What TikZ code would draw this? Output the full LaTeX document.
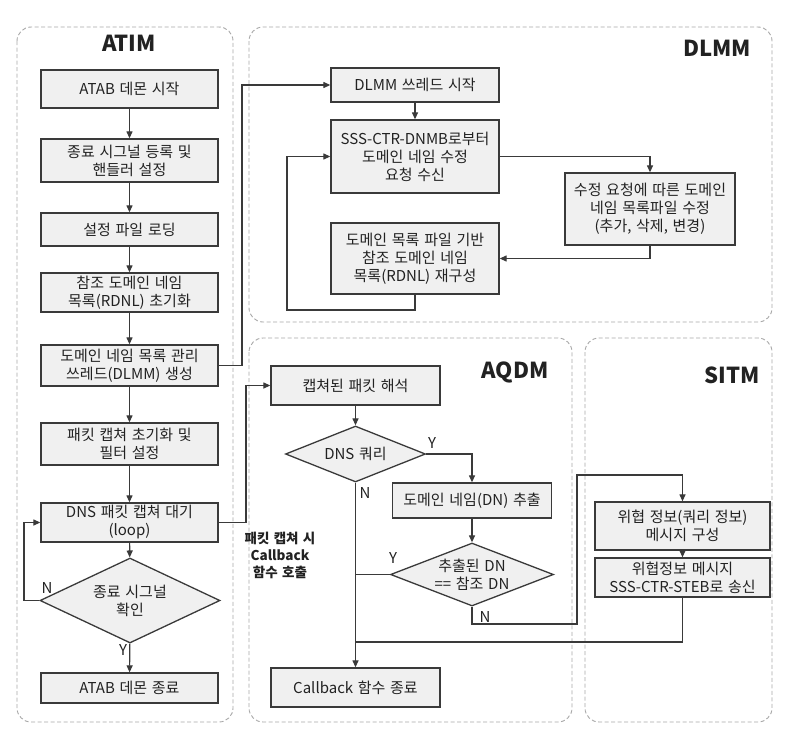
\documentclass[tikz,border=0pt]{standalone}
\usepackage{fontspec}
\setmainfont{Noto Sans CJK KR}[WordSpace=1.4]
\usetikzlibrary{shapes.geometric,arrows.meta}
\definecolor{boxfill}{HTML}{F0F0F0}
\definecolor{boxline}{HTML}{3A3A3A}
\definecolor{panelline}{HTML}{A8A8A8}
\definecolor{txt}{HTML}{222222}

\begin{document}
\begin{tikzpicture}[x=1pt,y=-1pt,
	box/.style={draw=boxline, fill=boxfill, line width=1.3pt, align=center, inner sep=1pt, text=txt, font=\fontsize{15}{18}\selectfont},
	cond/.style={diamond, draw=boxline, fill=boxfill, line width=1.3pt, align=center, inner sep=0pt, text=txt, font=\fontsize{15}{18}\selectfont},
	panel/.style={draw=panelline, line width=0.9pt, dash pattern=on 4pt off 2.5pt, rounded corners=14pt},
	title/.style={font=\fontsize{22}{26}\selectfont\bfseries, text=txt},
	yn/.style={font=\fontsize{15}{18}\selectfont, text=txt},
	arrow/.style={draw=boxline, line width=1.2pt, -{Triangle[length=7pt,width=6pt]}},
	line/.style={draw=boxline, line width=1.2pt}]
	\fill[white] (0,0) rectangle (792,734);
	\useasboundingbox (0,0) rectangle (792,734);
	
	\draw[panel] (17,27) rectangle (233,722);
	\draw[panel] (249,27) rectangle (772,322);
	\draw[panel] (249,338) rectangle (572,722);
	\draw[panel] (585,338) rectangle (772,722);
	
	\node[title] (atim) at (129,43) {ATIM};
	\node[title] (dlmm) at (717,48) {DLMM};
	\node[title] (aqdm) at (515,372) {AQDM};
	\node[title] (sitm) at (732,375) {SITM};
	
	% ATIM
	\node[box, minimum width=177, minimum height=38] (start) at (129.5,89) {ATAB 데몬 시작};
	\node[box, minimum width=177, minimum height=43] (reg) at (129.5,160.5) {종료 시그널 등록 및\\핸들러 설정};
	\node[box, minimum width=177, minimum height=33] (conf) at (129.5,229.5) {설정 파일 로딩};
	\node[box, minimum width=177, minimum height=39] (init) at (129.5,292.5) {참조 도메인 네임\\목록(RDNL) 초기화};
	\node[box, minimum width=177, minimum height=41] (gen) at (129.5,365.5) {도메인 네임 목록 관리\\쓰레드(DLMM) 생성};
	\node[box, minimum width=177, minimum height=42] (filt) at (129.5,444) {패킷 캡쳐 초기화 및\\필터 설정};
	\node[box, minimum width=177, minimum height=39] (wait) at (129.5,522.5) {DNS 패킷 캡쳐 대기\\(loop)};
	\node[cond, minimum width=180, minimum height=85, aspect=2.12] (chk) at (130,600.5) {종료 시그널\\확인};
	\node[box, minimum width=177, minimum height=30] (stop) at (129.5,688) {ATAB 데몬 종료};
	
	\draw[arrow] (start) -- (reg);
	\draw[arrow] (reg) -- (conf);
	\draw[arrow] (conf) -- (init);
	\draw[arrow] (init) -- (gen);
	\draw[arrow] (gen) -- (filt);
	\draw[arrow] (filt) -- (wait);
	\draw[arrow] (wait) -- (chk);
	\draw[arrow] (chk) -- (stop);
	\coordinate (loopx) at (24,0);
	\draw[arrow] (chk.west) -- (chk.west -| loopx) |- (wait.west);
	\node[yn] (chkn) at (47,588) {N};
	\node[yn] (chky) at (123,650) {Y};
	
	% DLMM
	\node[box, minimum width=168, minimum height=34] (dstart) at (415,85) {DLMM 쓰레드 시작};
	\node[box, minimum width=168, minimum height=73] (recv) at (415,156.5) {SSS-CTR-DNMB로부터\\도메인 네임 수정\\요청 수신};
	\node[box, minimum width=170, minimum height=72] (modify) at (650,209) {수정 요청에 따른 도메인\\네임 목록파일 수정\\(추가, 삭제, 변경)};
	\node[box, minimum width=168, minimum height=71] (rebuild) at (415,258.5) {도메인 목록 파일 기반\\참조 도메인 네임\\목록(RDNL) 재구성};
	
	\coordinate (tolx) at (242,0);
	\draw[arrow] (gen.east) -- (gen.east -| tolx) |- (dstart.west);
	\draw[arrow] (dstart) -- (recv);
	\draw[arrow] (recv.east) -| (modify.north);
	\draw[arrow] (modify.south) |- (rebuild.east);
	\coordinate (back) at (287,310);
	\draw[arrow] (rebuild.south) |- (back) |- (recv.west);
	
	% AQDM
	\node[box, minimum width=169, minimum height=39] (parse) at (355.5,385.5) {캡쳐된 패킷 해석};
	\node[cond, minimum width=140, minimum height=56, aspect=2.5] (dnsq) at (355.5,454) {DNS 쿼리};
	\node[box, minimum width=159, minimum height=35] (extract) at (472,500.5) {도메인 네임(DN) 추출};
	\node[cond, minimum width=163, minimum height=63, aspect=2.59] (match) at (472,574.5) {추출된 DN\\== 참조 DN};
	\node[box, minimum width=169, minimum height=39] (cbend) at (355.5,687.5) {Callback 함수 종료};
	\node[font=\fontsize{13.5}{17}\selectfont\bfseries, text=txt, align=center] (cbnote) at (280,555) {패킷 캡쳐 시\\Callback\\함수 호출};
	
	\coordinate (cbx) at (246,0);
	\draw[arrow] (wait.east) -- (wait.east -| cbx) |- (parse.west);
	\draw[arrow] (parse) -- (dnsq);
	\draw[arrow] (dnsq.east) -| (extract.north);
	\draw[arrow] (dnsq.south) -- (cbend.north);
	\draw[arrow] (extract) -- (match);
	\draw[line] (match.west) -- (match.west -| dnsq.south);
	\node[yn] (dnsy) at (432,443) {Y};
	\node[yn] (dnsn) at (365,493) {N};
	\node[yn] (matchy) at (393,558) {Y};
	\node[yn] (matchn) at (485,617) {N};
	
	% SITM
	\node[box, minimum width=175, minimum height=48] (msg) at (682.5,526) {위협 정보(쿼리 정보)\\메시지 구성};
	\node[box, minimum width=175, minimum height=39] (send) at (682.5,577.5) {위협정보 메시지\\SSS-CTR-STEB로 송신};
	
	\coordinate (nturn) at (577,624);
	\coordinate (nup) at (577,475);
	\draw[arrow] (match.south) |- (nturn) -- (nup) -| (msg.north);
	\draw[arrow] (msg) -- (send);
	\coordinate (join) at (355.5,642);
	\draw[line] (send.south) |- (join);
\end{tikzpicture}
\end{document}
